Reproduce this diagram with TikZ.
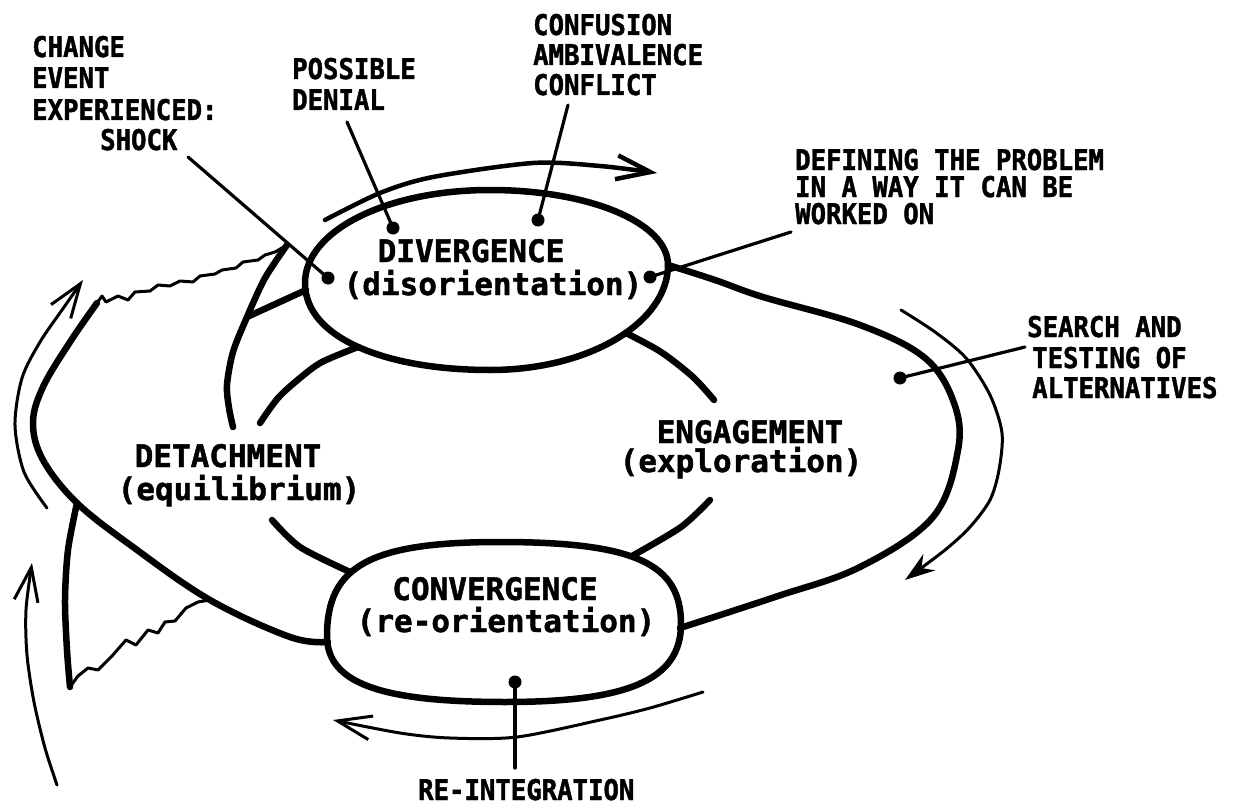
\documentclass[tikz,border=0pt]{standalone}
\usepackage{fontspec}
\newfontfamily\lblfont{DejaVu Sans Mono}[FakeStretch=0.9,BoldFeatures={FakeBold=1.5}]
\newfontfamily\stagefont{DejaVu Sans Mono}[BoldFeatures={FakeBold=1.5}]
\usetikzlibrary{arrows.meta}
\begin{document}
\begin{tikzpicture}[x=1pt,y=-1pt,
  heavy/.style={line width=6.5pt,line cap=round,line join=round},
  medium/.style={line width=4.5pt,line cap=round,line join=round},
  thinline/.style={line width=3pt,line cap=round,line join=round},
  wavy/.style={line width=3pt,line cap=round,line join=round},
  leader/.style={line width=3.2pt,line cap=round},
  dotn/.style={circle,fill=black,inner sep=0pt,minimum size=13pt},
  small/.style={font=\lblfont\bfseries\fontsize{28.5}{31}\selectfont,inner sep=0pt,anchor=base west},
  big/.style={font=\stagefont\bfseries\fontsize{31}{33}\selectfont,inner sep=0pt,anchor=base},
  headarrow/.style={-{Straight Barb[length=34pt,width=24pt]}},
  arrowfour/.style={-{Stealth[length=30pt,width=20pt]}}
]
\useasboundingbox (0,0) rectangle (1235,808);

% ---------- ellipses ----------
\coordinate (dR) at (668,265);
\coordinate (dT) at (490,190);
\coordinate (dLft) at (305,283);
\coordinate (dB) at (490,370);
\draw[heavy] (dR) .. controls +(0,-42) and +(100,0) .. (dT)
  .. controls +(-104,0) and +(0,-52) .. (dLft)
  .. controls +(0,55) and +(-104,0) .. (dB)
  .. controls +(100,0) and +(0,57) .. (dR);

\coordinate (cRt) at (681,624);
\coordinate (cT) at (500,542);
\coordinate (cLf) at (327,636);
\coordinate (cB) at (505,702);
\draw[heavy] (cRt) .. controls +(0,-60) and +(136,0) .. (cT)
  .. controls +(-130,0) and +(0,-70) .. (cLf)
  .. controls +(0,47) and +(-125,0) .. (cB)
  .. controls +(123,0) and +(0,56) .. (cRt);

% ---------- junctions ----------
\coordinate (jDR) at (668,265);
\coordinate (jDL) at (306,290);
\coordinate (jDBL) at (358,347);
\coordinate (jDBR) at (626,333);
\coordinate (jCR) at (680,628);
\coordinate (jCL) at (328,642);
\coordinate (jCTL) at (350,572);
\coordinate (jCTR) at (632,556);
\coordinate (tw) at (97,303);
\coordinate (arcTop) at (287,245);
\coordinate (jB) at (247,317);
\coordinate (triTop) at (77,503);
\coordinate (triBot) at (70,687);
\coordinate (triR) at (210,600);

% ---------- outer loops ----------
\draw[heavy] plot[smooth,tension=0.6] coordinates {(jDR) (715,280) (763,297) (860,325) (925,358) (954,403) (958,450) (933,517) (860,567) (775,597) (jCR)};
\draw[heavy] plot[smooth,tension=0.6] coordinates {(jCL) (290,637) (triR) (133,547) (triTop) (43,460) (33,423) (43,387) (70,342) (tw)};

% wavy top
\draw[wavy] (tw) -- (102,296) -- (106,302) -- (118,296) -- (128,300) -- (135,292) -- (150,291) -- (158,285) -- (170,286) -- (180,281) -- (193,282) -- (200,276) -- (215,274) -- (222,270) -- (236,268) -- (243,262) -- (258,260) -- (265,255) -- (275,252) -- (arcTop);

% inner arcs
\draw[heavy] plot[smooth] coordinates {(arcTop) (265,278) (jB) (233,352) (227,385) (229,408) (233,427)};
\draw[heavy] (jB) -- (jDL);
\draw[heavy] plot[smooth] coordinates {(jDBL) (322,362) (300,378) (278,398) (260,423)};
\draw[heavy] plot[smooth] coordinates {(jDBR) (661,352) (693,377) (714,400)};
\draw[heavy] plot[smooth] coordinates {(710,500) (681,527) (jCTR)};
\draw[heavy] plot[smooth] coordinates {(272,520) (300,547) (jCTL)};

% bottom-left triangle
\draw[heavy] plot[smooth] coordinates {(triTop) (68,550) (65,600) (67,650) (triBot)};
\draw[wavy] (triBot) -- (78,676) -- (88,668) -- (98,670) -- (112,656) -- (126,640) -- (136,645) -- (148,630) -- (158,633) -- (165,622) -- (175,621) -- (186,608) -- (198,602) -- (triR);

% ---------- flow arrows ----------
\draw[thinline,headarrow] plot[smooth] coordinates {(47,508) (24,472) (15,425) (22,378) (40,342) (62,310) (83,280)};
\draw[thinline,headarrow] plot[smooth] coordinates {(57,785) (45,748) (34,702) (27,655) (26,610) (32,563)};
\draw[medium,headarrow] plot[smooth] coordinates {(325,220) (380,193) (433,177) (533,163) (600,166) (657,173)};
\draw[thinline,arrowfour] plot[smooth] coordinates {(901,310) (935,332) (966,358) (990,395) (1002,433) (999,470) (990,500) (970,527) (945,550) (905,580)};
\draw[thinline,headarrow] plot[smooth] coordinates {(703,692) (650,708) (600,720) (517,737) (450,738) (400,733) (333,720)};

% ---------- leaders ----------
\node[dotn] (dotShock) at (328,278) {};
\node[dotn] (dotDenial) at (393,228) {};
\node[dotn] (dotConf) at (538,220) {};
\node[dotn] (dotDef) at (650,277) {};
\node[dotn] (dotSearch) at (900,378) {};
\node[dotn] (dotReint) at (515,682) {};
\coordinate (shockEnd) at (188,157);
\coordinate (denialEnd) at (347,122);
\coordinate (confEnd) at (568,105);
\coordinate (defEnd) at (791,232);
\coordinate (searchEnd) at (1025,347);
\coordinate (reintEnd) at (515,768);
\draw[leader] (shockEnd) -- (dotShock.center);
\draw[leader] (denialEnd) -- (dotDenial.center);
\draw[leader] (confEnd) -- (dotConf.center);
\draw[leader] (dotDef.center) -- (defEnd);
\draw[leader] (dotSearch.center) -- (searchEnd);
\draw[leader] (dotReint.center) -- (reintEnd);

% ---------- small labels ----------
\node[small] (t1a) at (32,57) {CHANGE};
\node[small] (t1b) at (32,88) {EVENT};
\node[small] (t1c) at (32,120) {EXPERIENCED:};
\node[small] (t1d) at (100,150) {SHOCK};
\node[small] (t2a) at (292,79) {POSSIBLE};
\node[small] (t2b) at (292,110) {DENIAL};
\node[small] (t3a) at (533,35) {CONFUSION};
\node[small] (t3b) at (533,65) {AMBIVALENCE};
\node[small] (t3c) at (533,95) {CONFLICT};
\node[small] (t4a) at (795,170) {DEFINING THE PROBLEM};
\node[small] (t4b) at (795,197) {IN A WAY IT CAN BE};
\node[small] (t4c) at (795,224) {WORKED ON};
\node[small] (t5a) at (1027,337) {SEARCH AND};
\node[small] (t5b) at (1032,368) {TESTING OF};
\node[small] (t5c) at (1032,398) {ALTERNATIVES};
\node[small] (t6) at (418,800) {RE-INTEGRATION};

% ---------- stage labels ----------
\node[big] (divA) at (471,262) {DIVERGENCE};
\node[big] (divB) at (493,295) {(disorientation)};
\node[big] (engA) at (750,443) {ENGAGEMENT};
\node[big] (engB) at (741,472) {(exploration)};
\node[big] (detA) at (228,467) {DETACHMENT};
\node[big] (detB) at (239,500) {(equilibrium)};
\node[big] (conA) at (495,600) {CONVERGENCE};
\node[big] (conB) at (506,632) {(re-orientation)};
\end{tikzpicture}
\end{document}
